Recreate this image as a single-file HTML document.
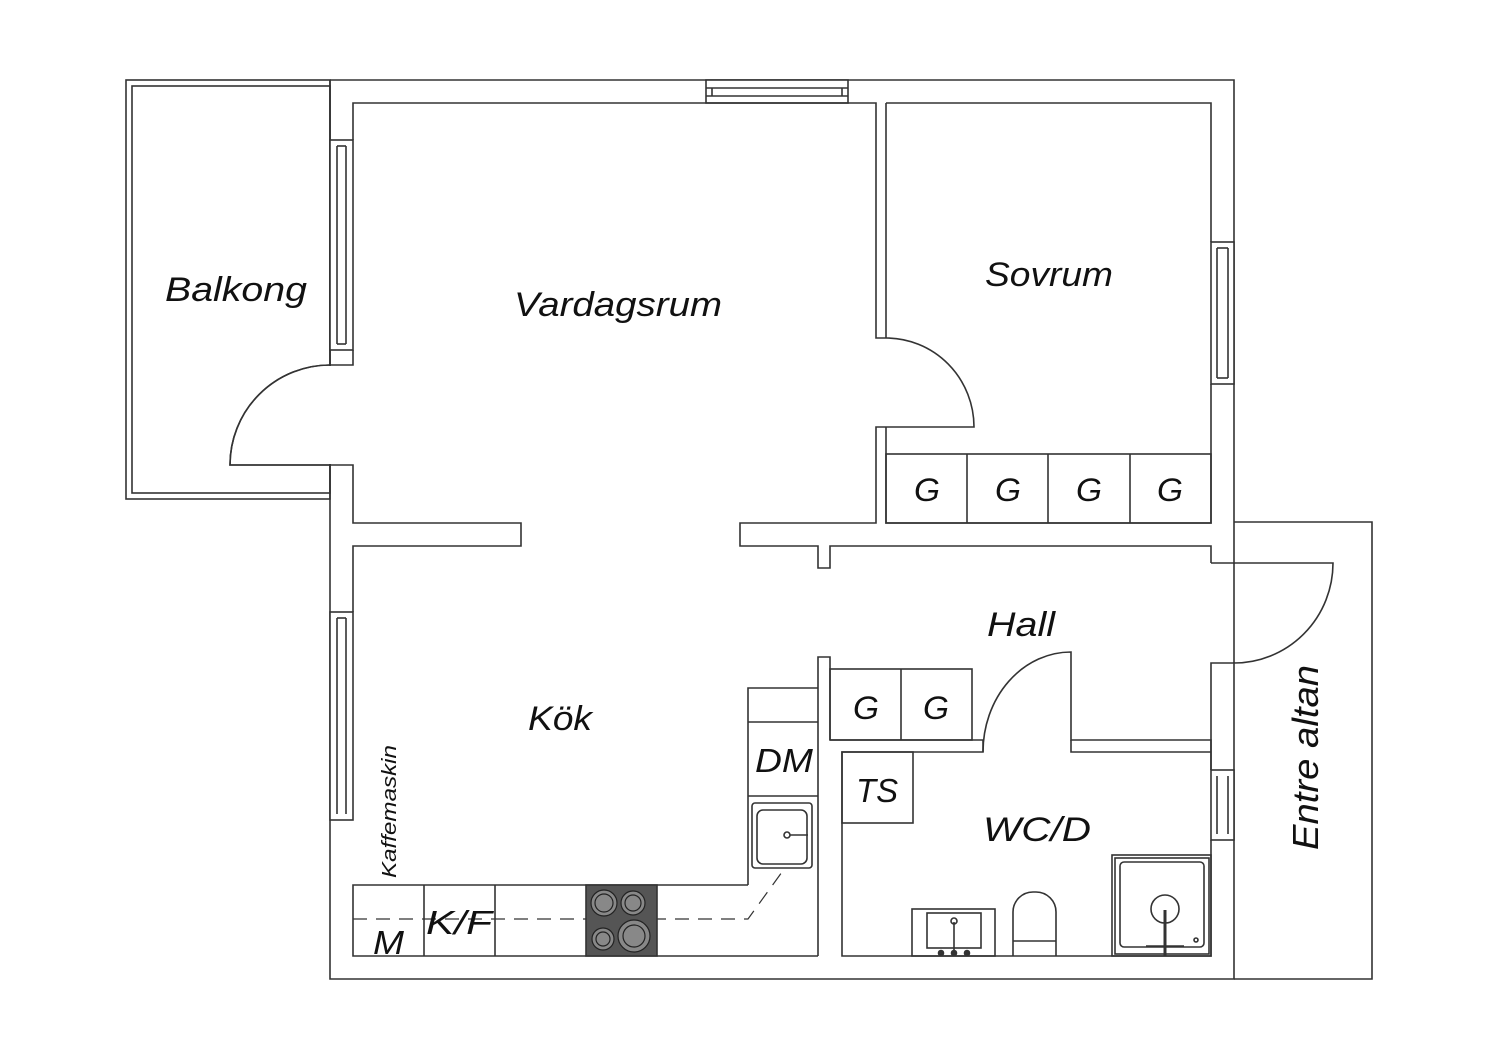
<!DOCTYPE html>
<html><head><meta charset="utf-8"><style>
html,body{margin:0;padding:0;background:#fff;}
svg{display:block;}
text{font-family:"Liberation Sans",sans-serif;font-style:italic;fill:#111;}
</style></head><body>
<svg width="1500" height="1060" viewBox="0 0 1500 1060" xmlns="http://www.w3.org/2000/svg">
<g fill="none" stroke="#333" stroke-width="1.6">
<rect x="126" y="80" width="204" height="419"/>
<rect x="132" y="86" width="198" height="407"/>
<polyline points="330,80 1234,80 1234,979 330,979 330,80"/>
<rect x="706" y="80" width="142" height="23" fill="#fff"/>
<line x1="706" y1="88" x2="848" y2="88"/><line x1="706" y1="96" x2="848" y2="96"/>
<line x1="712" y1="88" x2="712" y2="96"/><line x1="842" y1="88" x2="842" y2="96"/>
<rect x="330" y="140" width="23" height="210" fill="#fff"/>
<line x1="337" y1="146" x2="337" y2="344"/><line x1="346" y1="146" x2="346" y2="344"/>
<line x1="337" y1="146" x2="346" y2="146"/><line x1="337" y1="344" x2="346" y2="344"/>
<rect x="330" y="612" width="23" height="208" fill="#fff"/>
<line x1="337" y1="618" x2="337" y2="814"/><line x1="346" y1="618" x2="346" y2="814"/>
<line x1="337" y1="618" x2="346" y2="618"/>
<rect x="1211" y="242" width="23" height="142" fill="#fff"/>
<line x1="1217" y1="248" x2="1217" y2="378"/><line x1="1228" y1="248" x2="1228" y2="378"/>
<line x1="1217" y1="248" x2="1228" y2="248"/><line x1="1217" y1="378" x2="1228" y2="378"/>
<rect x="1211" y="770" width="23" height="70" fill="#fff"/>
<line x1="1217" y1="776" x2="1217" y2="834"/><line x1="1228" y1="776" x2="1228" y2="834"/>
<polyline points="353,140 353,103 876,103 876,338 886,338"/>
<polyline points="353,350 353,365 330,365"/>
<path d="M330,365 A100,100 0 0 0 230,465 L353,465 L353,523 L521,523 L521,546 L353,546 L353,612"/>
<line x1="330" y1="366" x2="330" y2="464" stroke="#fff" stroke-width="3"/>
<path d="M330,365 A100,100 0 0 0 230,465 L330,465"/>
<polyline points="886,103 1211,103 1211,242"/>
<polyline points="1211,384 1211,523 886,523 886,427"/>
<line x1="886" y1="103" x2="886" y2="338"/>
<path d="M886,338 A88,89 0 0 1 974,427 L876,427 L876,523 L740,523 L740,546 L818,546 L818,568 L830,568 L830,546 L1211,546 L1211,563"/>
<rect x="886" y="454" width="325" height="69"/>
<line x1="967" y1="454" x2="967" y2="523"/><line x1="1048" y1="454" x2="1048" y2="523"/><line x1="1130" y1="454" x2="1130" y2="523"/>
<polyline points="1234,522 1372,522 1372,979 1234,979"/>
<line x1="1234" y1="564" x2="1234" y2="662" stroke="#fff" stroke-width="3"/>
<path d="M1211,563 L1333,563 A99,100 0 0 1 1234,663 L1211,663 L1211,770"/>
<line x1="1234" y1="563" x2="1234" y2="663"/>
<polyline points="830,740 830,657 818,657 818,956"/>
<rect x="830" y="669" width="142" height="71"/>
<line x1="901" y1="669" x2="901" y2="740"/>
<polyline points="830,740 983,740 983,752 842,752 842,956 1211,956 1211,840"/>
<path d="M983,752 A88,100 0 0 1 1071,652 L1071,740 L1211,740 L1211,770"/>
<polyline points="1071,740 1071,752 1211,752"/>
<rect x="842" y="752" width="71" height="71"/>
<rect x="912" y="909" width="83" height="47"/>
<rect x="927" y="913" width="54" height="35"/>
<line x1="954" y1="922" x2="954" y2="956"/>
<circle cx="954" cy="921" r="3"/>
<circle cx="941" cy="953" r="2.5" fill="#333"/><circle cx="954" cy="953" r="2.5" fill="#333"/><circle cx="967" cy="953" r="2.5" fill="#333"/>
<path d="M1013,956 L1013,912 A20,20 0 0 1 1033,892 L1036,892 A20,20 0 0 1 1056,912 L1056,956"/>
<line x1="1013" y1="941" x2="1056" y2="941"/>
<rect x="1112" y="855" width="99" height="101"/>
<rect x="1115" y="858" width="94" height="96"/>
<rect x="1120" y="862" width="84" height="85" rx="4"/>
<circle cx="1165" cy="909" r="14"/>
<line x1="1165" y1="910" x2="1165" y2="956" stroke-width="3"/>
<line x1="1146" y1="946" x2="1184" y2="946"/>
<circle cx="1196" cy="940" r="2"/>
<polyline points="748,885 353,885 353,956 818,956"/>
<polyline points="748,885 748,688 818,688"/>
<line x1="748" y1="722" x2="818" y2="722"/><line x1="748" y1="796" x2="818" y2="796"/>
<line x1="424" y1="885" x2="424" y2="956"/><line x1="495" y1="885" x2="495" y2="956"/>
<rect x="752" y="803" width="60" height="65" rx="3"/>
<rect x="757" y="810" width="50" height="54" rx="6"/>
<circle cx="787" cy="835" r="3"/><line x1="790" y1="835" x2="808" y2="835"/>
<path d="M353,919 L748,919 L782,872" stroke-dasharray="14,9" stroke-width="1.2"/>
<rect x="586" y="885" width="71" height="71" fill="#555"/>
</g>
<g stroke="#222" stroke-width="1.2" fill="#888">
<circle cx="604" cy="903" r="13"/><circle cx="604" cy="903" r="9"/>
<circle cx="633" cy="903" r="12"/><circle cx="633" cy="903" r="8"/>
<circle cx="603" cy="939" r="11"/><circle cx="603" cy="939" r="7"/>
<circle cx="634" cy="936" r="16"/><circle cx="634" cy="936" r="11"/>
</g>
<g font-size="34" lengthAdjust="spacingAndGlyphs">
<text x="165" y="301" textLength="142" lengthAdjust="spacingAndGlyphs">Balkong</text>
<text x="514" y="316" textLength="208" lengthAdjust="spacingAndGlyphs">Vardagsrum</text>
<text x="985" y="286" textLength="128" lengthAdjust="spacingAndGlyphs">Sovrum</text>
<text x="528" y="730" textLength="64" lengthAdjust="spacingAndGlyphs">Kök</text>
<text x="987" y="636" textLength="68" lengthAdjust="spacingAndGlyphs">Hall</text>
<text x="983" y="841" textLength="108" lengthAdjust="spacingAndGlyphs">WC/D</text>
<text x="914" y="501" font-size="32" textLength="26" lengthAdjust="spacingAndGlyphs">G</text><text x="995" y="501" font-size="32" textLength="26" lengthAdjust="spacingAndGlyphs">G</text>
<text x="1076" y="501" font-size="32" textLength="26" lengthAdjust="spacingAndGlyphs">G</text><text x="1157" y="501" font-size="32" textLength="26" lengthAdjust="spacingAndGlyphs">G</text>
<text x="853" y="719" font-size="32" textLength="26" lengthAdjust="spacingAndGlyphs">G</text><text x="923" y="719" font-size="32" textLength="26" lengthAdjust="spacingAndGlyphs">G</text>
<text x="755" y="772" font-size="33" textLength="58" lengthAdjust="spacingAndGlyphs">DM</text>
<text x="856" y="802" font-size="33" textLength="42" lengthAdjust="spacingAndGlyphs">TS</text>
<text x="373" y="954" font-size="33" textLength="31" lengthAdjust="spacingAndGlyphs">M</text>
<text x="426" y="934" font-size="33" textLength="66" lengthAdjust="spacingAndGlyphs">K/F</text>
<text transform="translate(1318,850) rotate(-90)" font-size="36" textLength="185" lengthAdjust="spacingAndGlyphs">Entre altan</text>
<text transform="translate(396,878) rotate(-90)" font-size="20" textLength="133" lengthAdjust="spacingAndGlyphs">Kaffemaskin</text>
</g>
</svg>
</body></html>
